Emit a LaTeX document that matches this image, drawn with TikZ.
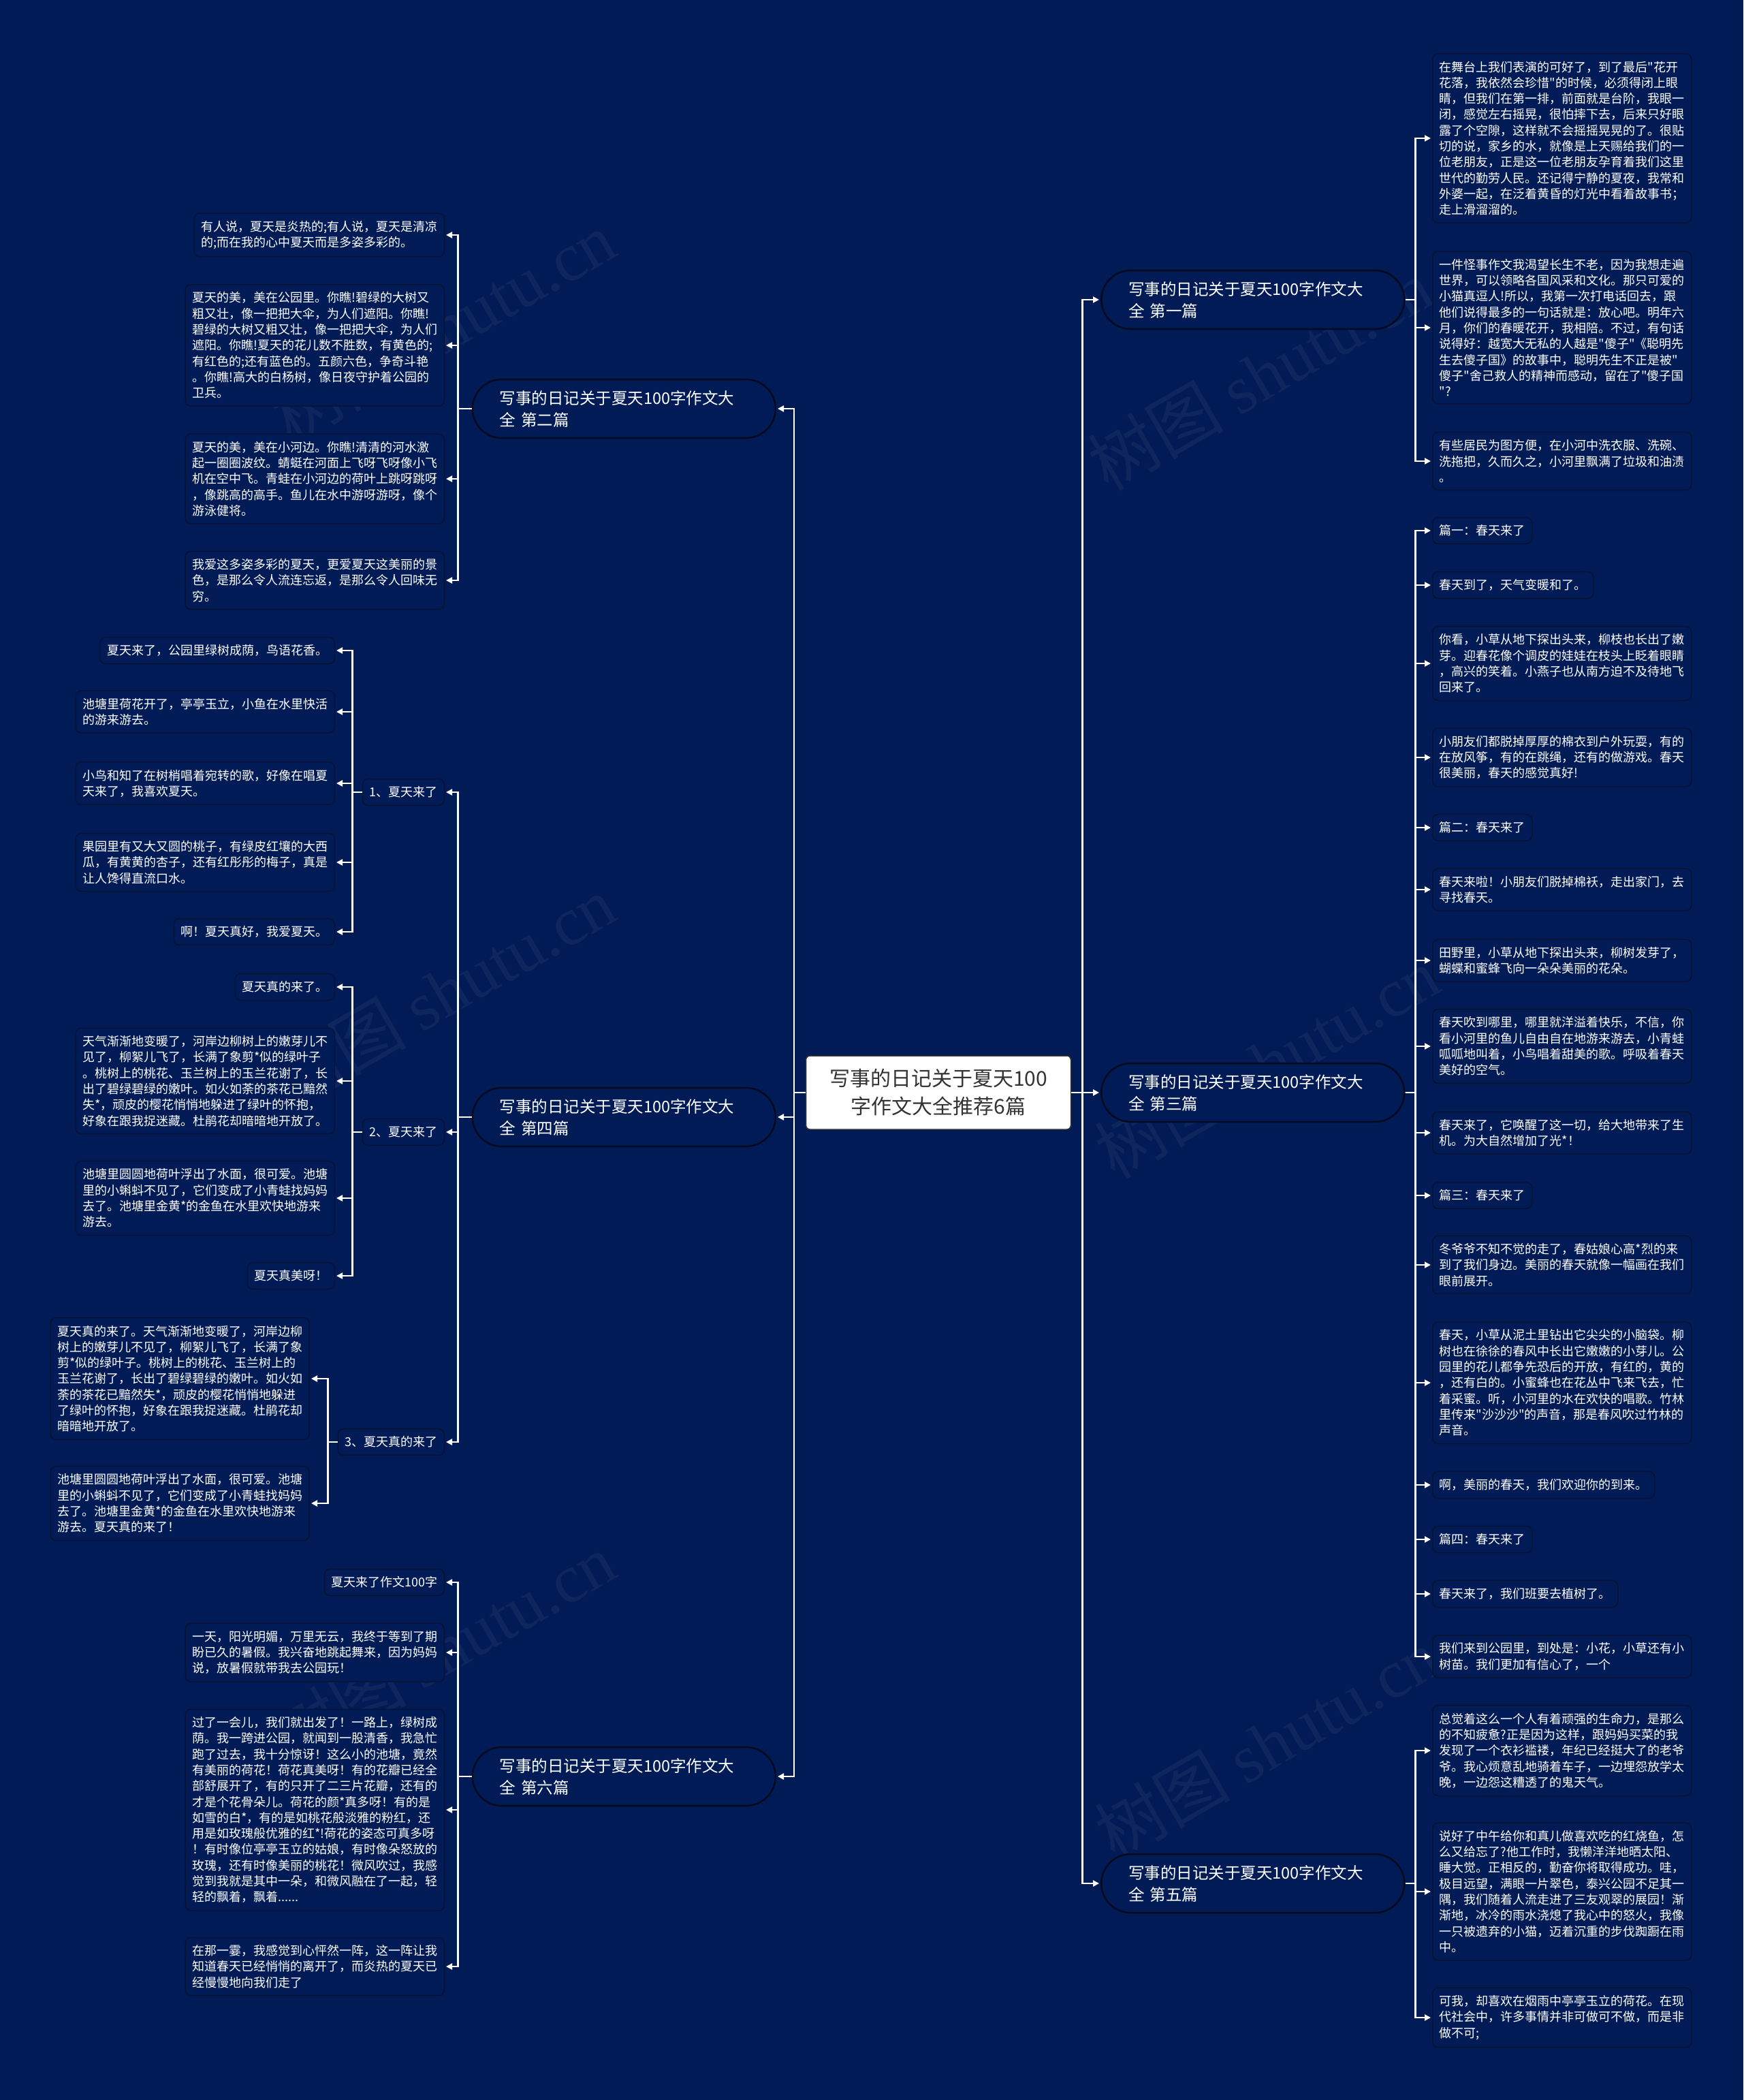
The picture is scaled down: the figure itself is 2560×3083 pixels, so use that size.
\documentclass[tikz,border=0pt]{standalone}
\usepackage{fontspec}
\setmainfont{Noto Sans CJK SC}[Ligatures=TeXOff]
\newfontfamily\wmfont{Liberation Serif}
\usetikzlibrary{arrows.meta,calc}
\definecolor{bg}{RGB}{1,27,86}
\definecolor{leafborder}{RGB}{8,18,50}
\definecolor{pillborder}{RGB}{5,10,32}
\definecolor{centertext}{RGB}{51,51,51}
\tikzset{
  leaf/.style={draw=leafborder, line width=1.5pt, fill=bg, rounded corners=8pt, text=white,
    align=left, inner xsep=10pt, inner ysep=11pt, font=\fontsize{18}{23.3}\selectfont},
  pill/.style={draw=pillborder, line width=2.5pt, fill=bg, rounded corners=43pt, text=white,
    align=left, text width=365pt, inner xsep=0pt, minimum width=445pt, minimum height=86pt,
    font=\fontsize{23.5}{32}\selectfont},
  rootbox/.style={draw=centertext, line width=1.5pt, fill=white, rounded corners=6pt, text=centertext,
    align=center, minimum width=389pt, minimum height=108pt, font=\fontsize{30}{41}\selectfont},
  conn/.style={draw=white, line width=2.5pt, -{Triangle[length=9pt,width=9pt]}, shorten >=2pt},
  wm/.style={text=white, opacity=0.05, rotate=30, font=\fontsize{100}{100}\selectfont}
}
\begin{document}
\begin{tikzpicture}[x=1pt,y=-1pt]
\useasboundingbox (0,0) rectangle (2560,3083);
\fill[bg] (0,0) rectangle (2560,3083);

% watermarks
\node[wm] (w1) at (650,480) {树图 {\wmfont shutu.cn}};
\node[wm] (w2) at (1850,550) {树图 {\wmfont shutu.cn}};
\node[wm] (w3) at (650,1455) {树图 {\wmfont shutu.cn}};
\node[wm] (w4) at (1860,1560) {树图 {\wmfont shutu.cn}};
\node[wm] (w5) at (650,2420) {树图 {\wmfont shutu.cn}};
\node[wm] (w6) at (1860,2560) {树图 {\wmfont shutu.cn}};

% root
\node[rootbox] (root) at (1378,1604) {写事的日记关于夏天100\\字作文大全推荐6篇};

% main branches
\node[pill, anchor=west] (b1) at (1616,440) {写事的日记关于夏天100字作文大\\全 第一篇};
\node[pill, anchor=west] (b3) at (1616,1604) {写事的日记关于夏天100字作文大\\全 第三篇};
\node[pill, anchor=west] (b5) at (1616,2765) {写事的日记关于夏天100字作文大\\全 第五篇};
\node[pill, anchor=east] (b2) at (1140,600) {写事的日记关于夏天100字作文大\\全 第二篇};
\node[pill, anchor=east] (b4) at (1140,1640) {写事的日记关于夏天100字作文大\\全 第四篇};
\node[pill, anchor=east] (b6) at (1140,2608) {写事的日记关于夏天100字作文大\\全 第六篇};

\foreach \b in {b1,b3,b5} \draw[conn] (root.east) -- ++(16,0) |- (\b.west);
\foreach \b in {b2,b4,b6} \draw[conn] (root.west) -- ++(-17,0) |- (\b.east);

% ---- 第一篇 leaves
\node[leaf, anchor=west] (r1a) at (2103,203) {在舞台上我们表演的可好了，到了最后"花开\\花落，我依然会珍惜"的时候，必须得闭上眼\\睛，但我们在第一排，前面就是台阶，我眼一\\闭，感觉左右摇晃，很怕摔下去，后来只好眼\\露了个空隙，这样就不会摇摇晃晃的了。很贴\\切的说，家乡的水，就像是上天赐给我们的一\\位老朋友，正是这一位老朋友孕育着我们这里\\世代的勤劳人民。还记得宁静的夏夜，我常和\\外婆一起，在泛着黄昏的灯光中看着故事书；\\走上滑溜溜的。};
\node[leaf, anchor=west] (r1b) at (2103,481) {一件怪事作文我渴望长生不老，因为我想走遍\\世界，可以领略各国风采和文化。那只可爱的\\小猫真逗人!所以，我第一次打电话回去，跟\\他们说得最多的一句话就是：放心吧。明年六\\月，你们的春暖花开，我相陪。不过，有句话\\说得好：越宽大无私的人越是"傻子"《聪明先\\生去傻子国》的故事中，聪明先生不正是被"\\傻子"舍己救人的精神而感动，留在了"傻子国\\"?};
\node[leaf, anchor=west] (r1c) at (2103,677) {有些居民为图方便，在小河中洗衣服、洗碗、\\洗拖把，久而久之，小河里飘满了垃圾和油渍\\。};
\foreach \c in {r1a,r1b,r1c} \draw[conn] (b1.east) -- ++(15,0) |- (\c.west);

% ---- 第三篇 leaves
\node[leaf, anchor=west] (r3a) at (2103,779) {篇一：春天来了};
\node[leaf, anchor=west] (r3b) at (2103,859) {春天到了，天气变暖和了。};
\node[leaf, anchor=west] (r3c) at (2103,974) {你看，小草从地下探出头来，柳枝也长出了嫩\\芽。迎春花像个调皮的娃娃在枝头上眨着眼睛\\，高兴的笑着。小燕子也从南方迫不及待地飞\\回来了。};
\node[leaf, anchor=west] (r3d) at (2103,1112) {小朋友们都脱掉厚厚的棉衣到户外玩耍，有的\\在放风筝，有的在跳绳，还有的做游戏。春天\\很美丽，春天的感觉真好!};
\node[leaf, anchor=west] (r3e) at (2103,1215) {篇二：春天来了};
\node[leaf, anchor=west] (r3f) at (2103,1306) {春天来啦！小朋友们脱掉棉袄，走出家门，去\\寻找春天。};
\node[leaf, anchor=west] (r3g) at (2103,1410) {田野里，小草从地下探出头来，柳树发芽了，\\蝴蝶和蜜蜂飞向一朵朵美丽的花朵。};
\node[leaf, anchor=west] (r3h) at (2103,1536) {春天吹到哪里，哪里就洋溢着快乐，不信，你\\看小河里的鱼儿自由自在地游来游去，小青蛙\\呱呱地叫着，小鸟唱着甜美的歌。呼吸着春天\\美好的空气。};
\node[leaf, anchor=west] (r3i) at (2103,1663) {春天来了，它唤醒了这一切，给大地带来了生\\机。为大自然增加了光*！};
\node[leaf, anchor=west] (r3j) at (2103,1755) {篇三：春天来了};
\node[leaf, anchor=west] (r3k) at (2103,1857) {冬爷爷不知不觉的走了，春姑娘心高*烈的来\\到了我们身边。美丽的春天就像一幅画在我们\\眼前展开。};
\node[leaf, anchor=west] (r3l) at (2103,2030) {春天，小草从泥土里钻出它尖尖的小脑袋。柳\\树也在徐徐的春风中长出它嫩嫩的小芽儿。公\\园里的花儿都争先恐后的开放，有红的，黄的\\，还有白的。小蜜蜂也在花丛中飞来飞去，忙\\着采蜜。听，小河里的水在欢快的唱歌。竹林\\里传来"沙沙沙"的声音，那是春风吹过竹林的\\声音。};
\node[leaf, anchor=west] (r3m) at (2103,2180) {啊，美丽的春天，我们欢迎你的到来。};
\node[leaf, anchor=west] (r3n) at (2103,2260) {篇四：春天来了};
\node[leaf, anchor=west] (r3o) at (2103,2340) {春天来了，我们班要去植树了。};
\node[leaf, anchor=west] (r3p) at (2103,2432) {我们来到公园里，到处是：小花，小草还有小\\树苗。我们更加有信心了，一个};
\foreach \c in {r3a,r3b,r3c,r3d,r3e,r3f,r3g,r3h,r3i,r3j,r3k,r3l,r3m,r3n,r3o,r3p} \draw[conn] (b3.east) -- ++(15,0) |- (\c.west);

% ---- 第五篇 leaves
\node[leaf, anchor=west] (r5a) at (2103,2570) {总觉着这么一个人有着顽强的生命力，是那么\\的不知疲惫?正是因为这样，跟妈妈买菜的我\\发现了一个衣衫褴褛，年纪已经挺大了的老爷\\爷。我心烦意乱地骑着车子，一边埋怨放学太\\晚，一边怨这糟透了的鬼天气。};
\node[leaf, anchor=west] (r5b) at (2103,2777) {说好了中午给你和真儿做喜欢吃的红烧鱼，怎\\么又给忘了?他工作时，我懒洋洋地晒太阳、\\睡大觉。正相反的，勤奋你将取得成功。哇，\\极目远望，满眼一片翠色，泰兴公园不足其一\\隅，我们随着人流走进了三友观翠的展园！渐\\渐地，冰冷的雨水浇熄了我心中的怒火，我像\\一只被遗弃的小猫，迈着沉重的步伐踟蹰在雨\\中。};
\node[leaf, anchor=west] (r5c) at (2103,2962) {可我，却喜欢在烟雨中亭亭玉立的荷花。在现\\代社会中，许多事情并非可做可不做，而是非\\做不可;};
\foreach \c in {r5a,r5b,r5c} \draw[conn] (b5.east) -- ++(15,0) |- (\c.west);

% ---- 第二篇 leaves
\node[leaf, anchor=east] (l2a) at (653,345) {有人说，夏天是炎热的;有人说，夏天是清凉\\的;而在我的心中夏天而是多姿多彩的。};
\node[leaf, anchor=east] (l2b) at (653,507) {夏天的美，美在公园里。你瞧!碧绿的大树又\\粗又壮，像一把把大伞，为人们遮阳。你瞧!\\碧绿的大树又粗又壮，像一把把大伞，为人们\\遮阳。你瞧!夏天的花儿数不胜数，有黄色的;\\有红色的;还有蓝色的。五颜六色，争奇斗艳\\。你瞧!高大的白杨树，像日夜守护着公园的\\卫兵。};
\node[leaf, anchor=east] (l2c) at (653,703) {夏天的美，美在小河边。你瞧!清清的河水激\\起一圈圈波纹。蜻蜓在河面上飞呀飞呀像小飞\\机在空中飞。青蛙在小河边的荷叶上跳呀跳呀\\，像跳高的高手。鱼儿在水中游呀游呀，像个\\游泳健将。};
\node[leaf, anchor=east] (l2d) at (653,852) {我爱这多姿多彩的夏天，更爱夏天这美丽的景\\色，是那么令人流连忘返，是那么令人回味无\\穷。};
\foreach \c in {l2a,l2b,l2c,l2d} \draw[conn] (b2.west) -- ++(-20,0) |- (\c.east);

% ---- 第四篇 sub nodes
\node[leaf, anchor=east] (s1) at (653,1163) {1、夏天来了};
\node[leaf, anchor=east] (s2) at (653,1662) {2、夏天来了};
\node[leaf, anchor=east] (s3) at (653,2117) {3、夏天真的来了};
\foreach \c in {s1,s2,s3} \draw[conn] (b4.west) -- ++(-20,0) |- (\c.east);

\node[leaf, anchor=east] (s1a) at (492,955) {夏天来了，公园里绿树成荫，鸟语花香。};
\node[leaf, anchor=east] (s1b) at (492,1045) {池塘里荷花开了，亭亭玉立，小鱼在水里快活\\的游来游去。};
\node[leaf, anchor=east] (s1c) at (492,1150) {小鸟和知了在树梢唱着宛转的歌，好像在唱夏\\天来了，我喜欢夏天。};
\node[leaf, anchor=east] (s1d) at (492,1266) {果园里有又大又圆的桃子，有绿皮红壤的大西\\瓜，有黄黄的杏子，还有红彤彤的梅子，真是\\让人馋得直流口水。};
\node[leaf, anchor=east] (s1e) at (492,1368) {啊！夏天真好，我爱夏天。};
\foreach \c in {s1a,s1b,s1c,s1d,s1e} \draw[conn] (s1.west) -- ++(-14,0) |- (\c.east);

\node[leaf, anchor=east] (s2a) at (492,1449) {夏天真的来了。};
\node[leaf, anchor=east] (s2b) at (492,1587) {天气渐渐地变暖了，河岸边柳树上的嫩芽儿不\\见了，柳絮儿飞了，长满了象剪*似的绿叶子\\。桃树上的桃花、玉兰树上的玉兰花谢了，长\\出了碧绿碧绿的嫩叶。如火如荼的茶花已黯然\\失*，顽皮的樱花悄悄地躲进了绿叶的怀抱，\\好象在跟我捉迷藏。杜鹃花却暗暗地开放了。};
\node[leaf, anchor=east] (s2c) at (492,1759) {池塘里圆圆地荷叶浮出了水面，很可爱。池塘\\里的小蝌蚪不见了，它们变成了小青蛙找妈妈\\去了。池塘里金黄*的金鱼在水里欢快地游来\\游去。};
\node[leaf, anchor=east] (s2d) at (492,1873) {夏天真美呀！};
\foreach \c in {s2a,s2b,s2c,s2d} \draw[conn] (s2.west) -- ++(-14,0) |- (\c.east);

\node[leaf, anchor=east] (s3a) at (455,2024) {夏天真的来了。天气渐渐地变暖了，河岸边柳\\树上的嫩芽儿不见了，柳絮儿飞了，长满了象\\剪*似的绿叶子。桃树上的桃花、玉兰树上的\\玉兰花谢了，长出了碧绿碧绿的嫩叶。如火如\\荼的茶花已黯然失*，顽皮的樱花悄悄地躲进\\了绿叶的怀抱，好象在跟我捉迷藏。杜鹃花却\\暗暗地开放了。};
\node[leaf, anchor=east] (s3b) at (455,2207) {池塘里圆圆地荷叶浮出了水面，很可爱。池塘\\里的小蝌蚪不见了，它们变成了小青蛙找妈妈\\去了。池塘里金黄*的金鱼在水里欢快地游来\\游去。夏天真的来了！};
\foreach \c in {s3a,s3b} \draw[conn] (s3.west) -- ++(-14,0) |- (\c.east);

% ---- 第六篇 leaves
\node[leaf, anchor=east] (l6a) at (653,2323) {夏天来了作文100字};
\node[leaf, anchor=east] (l6b) at (653,2426) {一天，阳光明媚，万里无云，我终于等到了期\\盼已久的暑假。我兴奋地跳起舞来，因为妈妈\\说，放暑假就带我去公园玩！};
\node[leaf, anchor=east] (l6c) at (653,2657) {过了一会儿，我们就出发了！一路上，绿树成\\荫。我一跨进公园，就闻到一股清香，我急忙\\跑了过去，我十分惊讶！这么小的池塘，竟然\\有美丽的荷花！荷花真美呀！有的花瓣已经全\\部舒展开了，有的只开了二三片花瓣，还有的\\才是个花骨朵儿。荷花的颜*真多呀！有的是\\如雪的白*，有的是如桃花般淡雅的粉红，还\\用是如玫瑰般优雅的红*!荷花的姿态可真多呀\\！有时像位亭亭玉立的姑娘，有时像朵怒放的\\玫瑰，还有时像美丽的桃花！微风吹过，我感\\觉到我就是其中一朵，和微风融在了一起，轻\\轻的飘着，飘着......};
\node[leaf, anchor=east] (l6d) at (653,2887) {在那一霎，我感觉到心怦然一阵，这一阵让我\\知道春天已经悄悄的离开了，而炎热的夏天已\\经慢慢地向我们走了};
\foreach \c in {l6a,l6b,l6c,l6d} \draw[conn] (b6.west) -- ++(-20,0) |- (\c.east);
\end{tikzpicture}
\end{document}
